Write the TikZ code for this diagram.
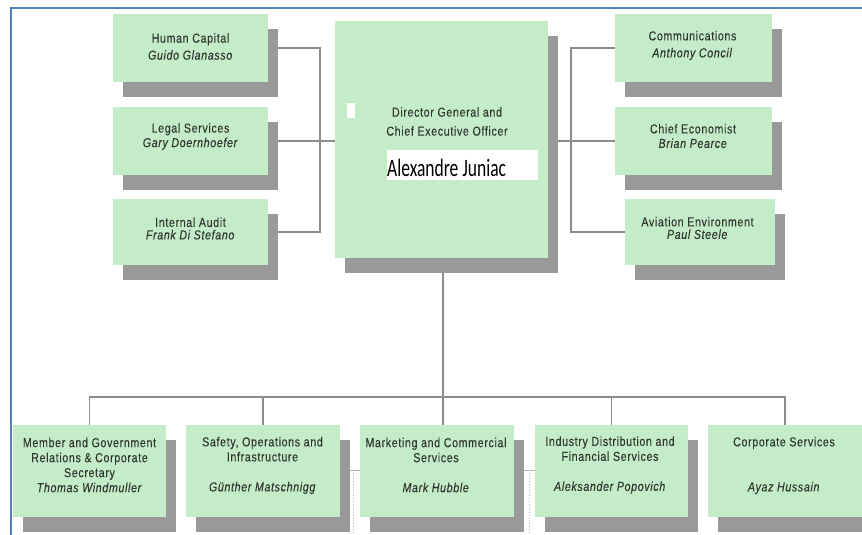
\documentclass[tikz,border=0pt]{standalone}
\usepackage{fontspec}
\setmainfont{Liberation Sans}[FakeStretch=0.82, LetterSpace=5, FakeBold=0.2]
\newfontfamily\calfont{Carlito}
\usetikzlibrary{shadows,backgrounds,calc}
\definecolor{boxgreen}{HTML}{C5ECC8}
\definecolor{shadowgrey}{HTML}{999999}
\definecolor{conngrey}{HTML}{8C8C8C}
\definecolor{faintgrey}{HTML}{B4B4B4}
\definecolor{blueline}{HTML}{4F81BD}
\definecolor{txtc}{HTML}{2F372F}
\begin{document}
\begin{tikzpicture}[x=1pt,y=-1pt,
  box/.style={fill=boxgreen, draw=none, inner sep=0pt,
    drop shadow={shadow xshift=10pt, shadow yshift=-15pt, opacity=1, fill=shadowgrey}},
  lbl/.style={align=center, inner sep=0pt, text=txtc},
  lblA/.style={lbl, font=\fontsize{13}{17}\selectfont},
  lblB/.style={lbl, font=\fontsize{13}{14.5}\selectfont},
  lblC/.style={lbl, font=\fontsize{13}{12.5}\selectfont},
  lblD/.style={lbl, font=\fontsize{13}{15}\selectfont},
  conn/.style={draw=conngrey, line width=1.3pt},
  faint/.style={draw=faintgrey, line width=0.8pt},
]
\useasboundingbox (0,0) rectangle (862,535);

% border
\coordinate (bTR) at (862,8);
\coordinate (bTL) at (11,8);
\coordinate (bBL) at (11,535);
\draw[blueline, line width=2pt] (bTR) -- (bTL) -- (bBL);

% top-left boxes
\node[box, minimum width=155pt, minimum height=68pt] (hc) at (190.5,48) {};
\node[lblA] (hcT) at (190.5,46.5) {Human Capital\\\textit{Guido Glanasso}};
\node[box, minimum width=155pt, minimum height=68pt] (ls) at (190.5,141) {};
\node[lblB] (lsT) at (190.5,136.5) {Legal Services\\\textit{Gary Doernhoefer}};
\node[box, minimum width=155pt, minimum height=66pt] (ia) at (190.5,232) {};
\node[lblC] (iaT) at (190.5,228.5) {Internal Audit\\\textit{Frank Di Stefano}};

% CEO
\node[box, minimum width=213pt, minimum height=237pt] (ceo) at (441.5,139.5) {};
\node[fill=white, inner sep=0pt, minimum width=8pt, minimum height=15pt] (sq) at (351,110.5) {};
\node[lbl, font=\fontsize{13}{19}\selectfont] (ceoT) at (447,121.5) {Director General and\\Chief Executive Officer};
\node[fill=white, inner sep=0pt, minimum width=151pt, minimum height=30pt, anchor=north west] (nameBox) at (387,150) {};
\node[anchor=base west, inner sep=0pt, text=black] (nameT) at (387,176)
  {\scalebox{0.70}[1]{\calfont\fontsize{25}{25}\selectfont Alexandre Juniac}};

% top-right boxes
\node[box, minimum width=157pt, minimum height=68pt] (co) at (693.5,48) {};
\node[lblA] (coT) at (692.5,45.5) {Communications\\\textit{Anthony Concil}};
\node[box, minimum width=157pt, minimum height=68pt] (ce) at (693.5,141) {};
\node[lblB] (ceT) at (693,136) {Chief Economist\\\textit{Brian Pearce}};
\node[box, minimum width=150pt, minimum height=66pt] (ae) at (700,232) {};
\node[lblC] (aeT) at (697.5,228) {Aviation Environment\\\textit{Paul Steele}};

% bottom boxes
\node[box, minimum width=153pt, minimum height=92pt] (m1) at (89.5,471) {};
\node[lblD] (m1T) at (89.5,465) {Member and Government\\Relations \& Corporate\\Secretary\\\textit{Thomas Windmuller}};
\node[box, minimum width=154pt, minimum height=92pt] (m2) at (263,471) {};
\node[lblD] (m2T) at (262.5,465.5) {Safety, Operations and\\Infrastructure\\[15pt]\textit{Günther Matschnigg}};
\node[box, minimum width=154pt, minimum height=92pt] (m3) at (437,471) {};
\node[lblD] (m3T) at (436,465) {Marketing and Commercial\\Services\\[15pt]\textit{Mark Hubble}};
\node[box, minimum width=153pt, minimum height=92pt] (m4) at (611.5,471) {};
\node[lblD] (m4T) at (610,465) {Industry Distribution and\\Financial Services\\[15pt]\textit{Aleksander Popovich}};
\node[box, minimum width=154pt, minimum height=92pt] (m5) at (785,471) {};
\node[lblD] (m5T) at (784,465.5) {Corporate Services\\[30pt]\textit{Ayaz Hussain}};

% connectors
\coordinate (lx) at (320,0);
\coordinate (rx) at (571,0);
\coordinate (trunk) at (443,397);
\begin{scope}[on background layer]
  \draw[conn] (hc.east) -| (lx |- ia.east) -- (ia.east);
  \draw[conn] (ls.east) -- (ceo.west |- ls.east);
  \draw[conn] (co.west) -| (rx |- ae.west) -- (ae.west);
  \draw[conn] (ceo.east |- ce.west) -- (ce.west);
  \draw[conn] (ceo.south -| trunk) -- (trunk |- m3.north);
  \draw[conn] (m1.north) |- (trunk -| m5.north) -- (m5.north);
  \draw[conn] (m2.north) -- (m2.north |- trunk);
  \draw[conn] (m4.north) -- (m4.north |- trunk);
  % faint remnants between bottom boxes
  \draw[faint] ($(m2.east)+(8,-1)$) -- ($(m3.west)+(0,-1)$);
  \draw[faint, dotted] ($(m2.east)+(13,-1)$) -- ++(0,64);
  \draw[faint] ($(m3.east)+(8,-1)$) -- ($(m4.west)+(0,-1)$);
  \draw[faint, dotted] ($(m4.west)+(-5,-1)$) -- ++(0,64);
\end{scope}
\end{tikzpicture}
\end{document}
